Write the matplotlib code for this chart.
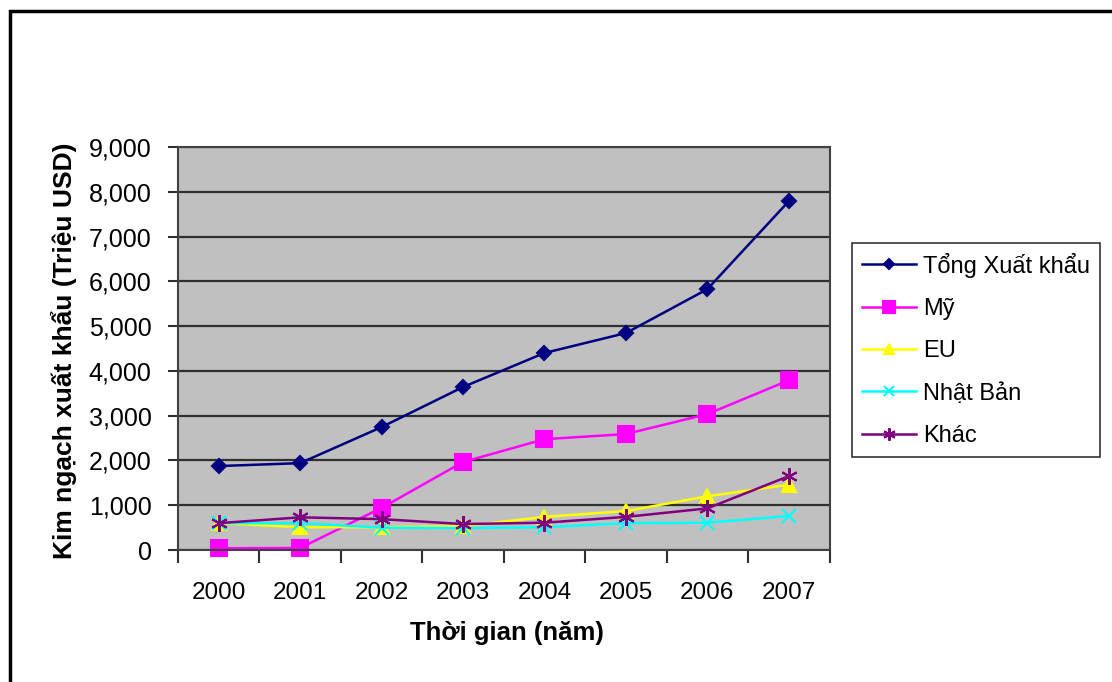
import matplotlib
matplotlib.use("Agg")
import matplotlib.pyplot as plt
from matplotlib.patches import Rectangle
from matplotlib.ticker import FuncFormatter

plt.rcParams['font.family'] = ['Liberation Sans', 'DejaVu Sans']

years = ['2000', '2001', '2002', '2003', '2004', '2005', '2006', '2007']
tong_xk = [1875, 1940, 2745, 3640, 4400, 4845, 5825, 7790]
my = [40, 45, 940, 1965, 2475, 2590, 3035, 3790]
eu = [600, 510, 510, 530, 740, 870, 1200, 1460]
nhat_ban = [600, 600, 500, 490, 510, 600, 610, 760]
khac = [600, 730, 690, 580, 610, 740, 930, 1650]

series = [
    ('Tổng Xuất khẩu', tong_xk, '#000080', 'D', 7),
    ('Mỹ', my, '#FF00FF', 's', 11),
    ('EU', eu, '#FFFF00', '^', 10),
    ('Nhật Bản', nhat_ban, '#00FFFF', 'x', 10),
    ('Khác', khac, '#800080', (6, 2, 0), 12),
]

fig = plt.figure(figsize=(11.12, 6.82), dpi=100)
ax = fig.add_axes([0.160, 0.1935, 0.586, 0.591])
ax.set_facecolor('#C0C0C0')

x = list(range(len(years)))
for name, vals, col, mk, ms in series:
    ax.plot(x, vals, color=col, lw=1.8, marker=mk, markersize=ms,
            markerfacecolor=col, markeredgecolor=col, markeredgewidth=1.5,
            label=name, clip_on=False)

ax.set_ylim(0, 9000)
ax.set_yticks(range(0, 9001, 1000))
ax.yaxis.set_major_formatter(FuncFormatter(lambda v, p: f'{int(v):,}'))
ax.grid(axis='y', color='#303030', lw=1.6)
ax.set_axisbelow(True)

# category axis: ticks between categories, labels at centers
ax.set_xlim(-0.5, len(years) - 0.5)
ax.set_xticks([i - 0.5 for i in range(len(years) + 1)])
ax.set_xticklabels([])
ax.set_xticks(x, minor=True)
ax.set_xticklabels(years, minor=True)
ax.tick_params(axis='x', which='major', direction='out', length=9, width=1.5, color='#303030')
ax.tick_params(axis='x', which='minor', length=0, pad=23, labelsize=17.5)
ax.tick_params(axis='y', direction='out', length=7, width=1.5, color='#303030',
               labelsize=18, pad=12)

for s in ax.spines.values():
    s.set_color('#404040')
    s.set_linewidth(1.5)

fig.text(0.456, 0.072, 'Thời gian (năm)', ha='center', va='center',
         fontsize=18.5, fontweight='bold')
fig.text(0.058, 0.486, 'Kim ngạch xuất khẩu (Triệu USD)', ha='center', va='center',
         rotation=90, fontsize=19, fontweight='bold')

leg = fig.legend(loc='upper left', bbox_to_anchor=(0.766, 0.644), borderaxespad=0,
                 fontsize=17, frameon=True, fancybox=False, handlelength=2.3,
                 labelspacing=0.86, handletextpad=0.3, borderpad=0.42)
leg.get_frame().set_edgecolor('black')
leg.get_frame().set_linewidth(1.2)
for h in leg.legend_handles:
    h.set_markersize(h.get_markersize() * 0.75)

# outer frame of the chart
fig.patches.append(Rectangle((10 / 1112, -0.1), 1.2, (682 - 11) / 682 + 0.1,
                             transform=fig.transFigure, fill=False,
                             edgecolor='black', lw=2.5))

fig.savefig('out.png', dpi=100, facecolor='white')
